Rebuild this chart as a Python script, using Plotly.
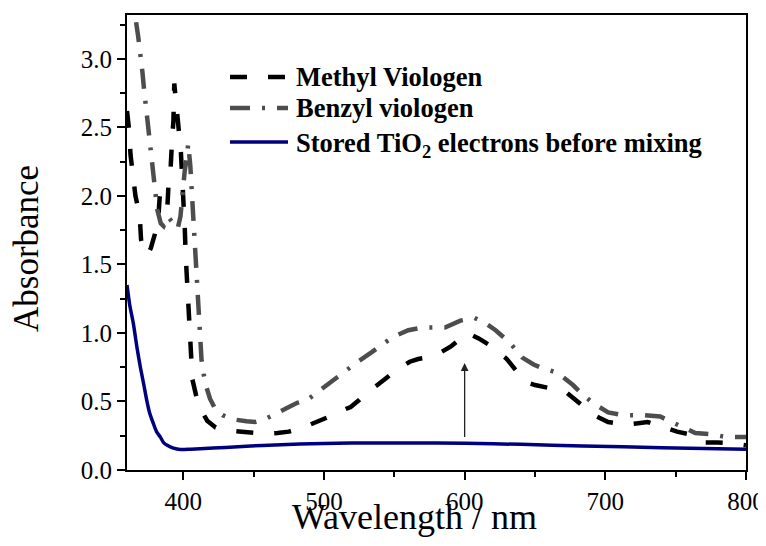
import plotly.graph_objects as go

# ---- data ----
mv_wl = [360, 361.5, 362.5, 364.5, 366, 369, 370, 372, 374.5, 377, 379, 382, 383.3, 386, 388.6,
         389.5, 391, 392, 393, 393.6, 394.5, 396, 397, 398.3, 399.3, 400.3, 401, 401.8, 402.5,
         403, 403.8, 404.5, 405.5, 406.5, 409, 412, 417, 423, 429, 445, 458, 467, 475, 485, 495,
         504, 512, 519, 525, 531, 538, 545, 553, 561, 567, 573, 580, 590, 596, 602, 610, 618,
         624, 630, 637, 644, 650, 656, 664, 673, 679, 684, 692, 702, 708, 714, 722, 730, 736,
         742, 751, 760, 766, 771, 780, 789, 800]
mv_abs = [2.62, 2.48, 2.30, 2.15, 2.00, 1.86, 1.68, 1.60, 1.57, 1.62, 1.69, 1.80, 2.00, 1.95, 1.90,
          2.08, 2.20, 2.40, 2.55, 2.82, 2.72, 2.62, 2.45, 2.32, 2.12, 1.95, 1.78, 1.55, 1.42,
          1.25, 1.12, 0.96, 0.83, 0.66, 0.55, 0.45, 0.36, 0.31, 0.29, 0.28, 0.265, 0.27, 0.28,
          0.31, 0.35, 0.39, 0.43, 0.46, 0.51, 0.57, 0.62, 0.68, 0.74, 0.79, 0.81, 0.82, 0.84,
          0.90, 0.95, 1.00, 0.96, 0.91, 0.86, 0.81, 0.72, 0.64, 0.62, 0.61, 0.59, 0.56, 0.51,
          0.46, 0.40, 0.35, 0.34, 0.33, 0.34, 0.35, 0.33, 0.31, 0.28, 0.26, 0.23, 0.20, 0.20,
          0.195, 0.18]

bv_wl = [360, 363, 366, 368, 369.5, 371, 372, 373.5, 375, 376, 377.5, 378.7, 380, 381.5, 384, 386,
         389, 392.5, 396, 398, 399.5, 401, 402.5, 403.5, 405, 406, 407, 408, 408.8, 409.5, 410.2,
         411, 412, 413, 414.5, 416, 419, 423, 428, 435, 445, 451, 458, 466, 474, 481, 488, 497,
         505, 513, 524, 534, 542, 549, 560, 570, 578, 586, 597, 607, 615, 622, 632, 641, 649,
         656, 666, 677, 684, 691, 702, 713, 720, 727, 739, 750, 757, 764, 776, 786, 800]
bv_abs = [3.95, 3.62, 3.30, 3.16, 3.05, 2.90, 2.79, 2.65, 2.50, 2.42, 2.28, 2.12, 2.00, 1.90, 1.80,
          1.78, 1.85, 1.80, 1.76, 1.85, 2.05, 2.18, 2.28, 2.38, 2.22, 2.05, 1.85, 1.70, 1.55,
          1.40, 1.26, 1.12, 0.95, 0.80, 0.70, 0.62, 0.52, 0.44, 0.40, 0.37, 0.355, 0.35, 0.37,
          0.41, 0.45, 0.49, 0.51, 0.58, 0.65, 0.71, 0.79, 0.86, 0.92, 0.97, 1.02, 1.04, 1.04,
          1.04, 1.09, 1.11, 1.07, 1.02, 0.93, 0.82, 0.77, 0.74, 0.71, 0.62, 0.55, 0.49, 0.42,
          0.40, 0.40, 0.40, 0.39, 0.34, 0.30, 0.27, 0.26, 0.24, 0.24]

ti_wl = [360, 362, 364.5, 367, 369.5, 372, 374, 376, 378.7, 381, 383.7, 386, 388.6, 393, 398, 405,
         412, 430, 448, 465, 483, 500, 519, 560, 600, 640, 684, 740, 800]
ti_abs = [1.35, 1.20, 1.07, 0.90, 0.75, 0.62, 0.51, 0.42, 0.34, 0.28, 0.24, 0.20, 0.18, 0.16, 0.15,
          0.152, 0.155, 0.165, 0.175, 0.183, 0.19, 0.194, 0.197, 0.197, 0.195, 0.187, 0.175,
          0.163, 0.152]

names = ["Methyl Viologen", "Benzyl viologen", "Stored TiO<sub>2</sub> electrons before mixing"]
x_title = "Wavelength / nm"
y_title = "Absorbance"
x_ticks = [400, 500, 600, 700, 800]
y_ticks = [0.0, 0.5, 1.0, 1.5, 2.0, 2.5, 3.0]
x_range = [360, 800]
y_range = [0, 3.32]
arrow_x = 600
arrow_from, arrow_to = 0.23, 0.78

FONT = "Liberation Serif, Times New Roman, serif"

styles = [
    dict(color="black", width=4.5, dash="17px,21px"),
    dict(color="#4d4d4d", width=4.5, dash="20px,12px,3px,12px"),
    dict(color="#00007f", width=3.5, dash="solid"),
]

# page offset of the figure inside the browser page (body margin)
OFF = 8
W, H = 766 - OFF, 546 - 2 * OFF
# plot area in page pixels: left 127, right 746, top 15, bottom 470
ml = 127 - OFF
mt = 15 - OFF
mr = W - (746 - OFF)
mb = H - (470 - OFF)
pw, ph = W - ml - mr, H - mt - mb


def px2paper(px, py):
    """page pixel -> paper coordinates"""
    return (px - OFF - ml) / pw, 1 - (py - OFF - mt) / ph


fig = go.Figure()
fig.add_trace(go.Scatter(x=mv_wl, y=mv_abs, mode="lines", name=names[0], line=styles[0]))
fig.add_trace(go.Scatter(x=bv_wl, y=bv_abs, mode="lines", name=names[1], line=styles[1]))
fig.add_trace(go.Scatter(x=ti_wl, y=ti_abs, mode="lines", name=names[2],
                         line=dict(**styles[2], shape="spline", smoothing=0.6)))

# custom legend (longer line samples, like the original)
leg_rows_y = [77, 108, 142]
for i, ry in enumerate(leg_rows_y):
    x0, yy = px2paper(230, ry)
    x1, _ = px2paper(288, ry)
    fig.add_shape(type="line", xref="paper", yref="paper", x0=x0, x1=x1, y0=yy, y1=yy,
                  line=styles[i])
    tx, ty = px2paper(294, ry + (3 if i == 2 else 0))
    fig.add_annotation(xref="paper", yref="paper", x=tx, y=ty, text="<b>%s</b>" % names[i],
                       showarrow=False, xanchor="left", yanchor="middle",
                       font=dict(family=FONT, size=26.5, color="black"))

# axis titles
tx, ty = px2paper(414.5, 517)
fig.add_annotation(xref="paper", yref="paper", x=tx, y=ty, text=x_title, showarrow=False,
                   xanchor="center", yanchor="middle",
                   font=dict(family=FONT, size=36, color="black"))
tx, ty = px2paper(27, 249)
fig.add_annotation(xref="paper", yref="paper", x=tx, y=ty, text=y_title, showarrow=False,
                   textangle=-90, xanchor="center", yanchor="middle",
                   font=dict(family=FONT, size=35, color="black"))

fig.add_annotation(x=arrow_x, y=arrow_to, ax=arrow_x, ay=arrow_from, xref="x", yref="y",
                   axref="x", ayref="y", showarrow=True, arrowhead=2, arrowsize=1.2,
                   arrowwidth=1.3, arrowcolor="#222", text="")

axis_common = dict(showline=True, linecolor="black", linewidth=2, mirror=True, showgrid=False,
                   zeroline=False, ticks="outside", tickwidth=1.5, ticklen=8,
                   tickcolor="black", tickfont=dict(family=FONT, size=25, color="black"),
                   ticklabeloverflow="allow")

fig.update_layout(
    width=W, height=H, margin=dict(l=ml, r=mr, t=mt, b=mb, autoexpand=False),
    paper_bgcolor="white", plot_bgcolor="white", showlegend=False,
    xaxis=dict(range=x_range, tickvals=x_ticks, **axis_common,
               minor=dict(dtick=50, ticks="outside", ticklen=5, tickwidth=1.5, tickcolor="black")),
    yaxis=dict(range=y_range, tickvals=y_ticks, ticktext=["%.1f" % v for v in y_ticks],
               **axis_common,
               minor=dict(dtick=0.25, ticks="outside", ticklen=5, tickwidth=1.5, tickcolor="black")),
    xaxis2=dict(range=x_range, overlaying="x", side="top", anchor="y", showline=False,
                showgrid=False, zeroline=False, tickvals=x_ticks, showticklabels=False,
                ticks="inside", ticklen=8, tickwidth=1.5, tickcolor="black",
                minor=dict(dtick=50, ticks="inside", ticklen=5, tickwidth=1.5, tickcolor="black")),
    yaxis2=dict(range=y_range, overlaying="y", side="right", anchor="x", showline=False,
                showgrid=False, zeroline=False, tickvals=y_ticks, showticklabels=False,
                ticks="inside", ticklen=8, tickwidth=1.5, tickcolor="black",
                minor=dict(dtick=0.25, ticks="inside", ticklen=5, tickwidth=1.5, tickcolor="black")),
)

fig.write_html("out.html")
